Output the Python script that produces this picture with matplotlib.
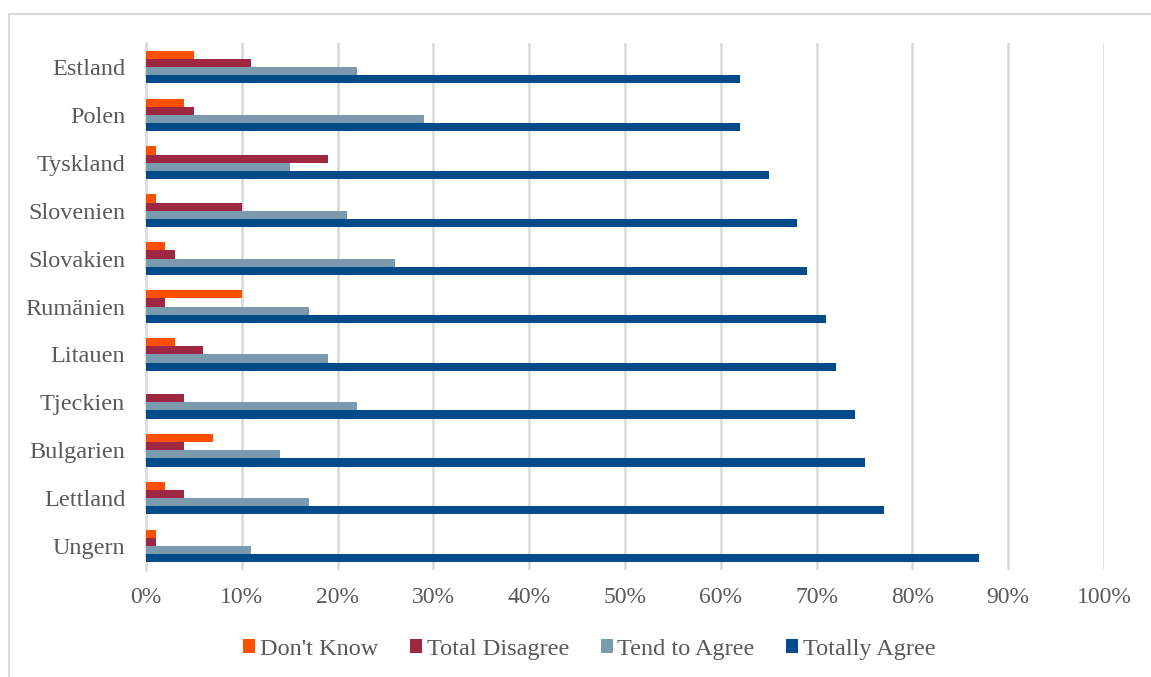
import numpy as np
import matplotlib.pyplot as plt
from matplotlib.patches import Rectangle
from matplotlib.ticker import PercentFormatter

countries = ['Estland', 'Polen', 'Tyskland', 'Slovenien', 'Slovakien', 'Rumänien',
             'Litauen', 'Tjeckien', 'Bulgarien', 'Lettland', 'Ungern']
dont_know = [5, 4, 1, 1, 2, 10, 3, 0, 7, 2, 1]
total_disagree = [11, 5, 19, 10, 3, 2, 6, 4, 4, 4, 1]
tend_to_agree = [22, 29, 15, 21, 26, 17, 19, 22, 14, 17, 11]
totally_agree = [62, 62, 65, 68, 69, 71, 72, 74, 75, 77, 87]

series = [
    ("Don't Know", dont_know, '#FF5000'),
    ('Total Disagree', total_disagree, '#9E2842'),
    ('Tend to Agree', tend_to_agree, '#7B9AAE'),
    ('Totally Agree', totally_agree, '#004C8A'),
]

plt.rcParams['font.family'] = ['Liberation Serif', 'DejaVu Serif']
text_color = '#595959'

fig = plt.figure(figsize=(11.51, 6.77), dpi=100)
# outer chart border
fig.patches.append(Rectangle((9 / 1151, -0.01), 1.02, 1 - 14 / 677 + 0.01,
                             transform=fig.transFigure, fill=False,
                             edgecolor='#D9D9D9', linewidth=1.5))

ax = fig.add_axes([146 / 1151, 1 - 570 / 677, 958 / 1151, 527 / 677])

y = np.arange(len(countries))
h = 0.17
for i, (name, vals, color) in enumerate(series):
    ax.barh(y + (i - 1.5) * h, vals, height=h, color=color, label=name,
            edgecolor='none', zorder=3)

ax.set_xlim(0, 100)
ax.set_ylim(len(countries) - 0.5, -0.5)
ax.set_xticks(np.arange(0, 101, 10))
ax.xaxis.set_major_formatter(PercentFormatter(decimals=0))
ax.set_yticks(y)
ax.set_yticklabels(countries)
ax.grid(axis='x', color='#D9D9D9', linewidth=1.8, zorder=0)
ax.tick_params(length=0, labelsize=17.5, colors=text_color)
ax.tick_params(axis='x', labelsize=17, pad=12)
ax.tick_params(axis='y', pad=15)
for s in ['top', 'right', 'bottom']:
    ax.spines[s].set_visible(False)
ax.spines['left'].set_color('#D9D9D9')
ax.spines['left'].set_linewidth(1.8)

leg = ax.legend(loc='upper center', bbox_to_anchor=(0.463, -0.089), ncol=4,
                frameon=False, fontsize=17.5, handlelength=0.49, handleheight=0.49,
                handletextpad=0.2, columnspacing=1.3)
for t in leg.get_texts():
    t.set_color(text_color)

fig.savefig('out.png', dpi=100)
